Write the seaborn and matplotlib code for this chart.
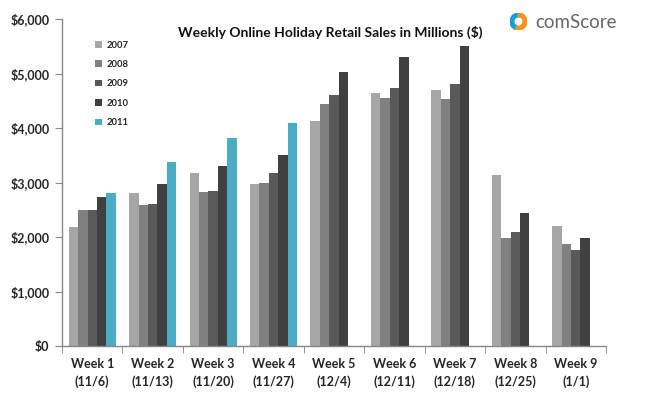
import pandas as pd
import numpy as np
import matplotlib
matplotlib.use('Agg')
import matplotlib.pyplot as plt
import seaborn as sns
from matplotlib.patches import Wedge
from matplotlib.ticker import FuncFormatter, FixedLocator

weeks = ['Week 1\n(11/6)', 'Week 2\n(11/13)', 'Week 3\n(11/20)', 'Week 4\n(11/27)', 'Week 5\n(12/4)',
         'Week 6\n(12/11)', 'Week 7\n(12/18)', 'Week 8\n(12/25)', 'Week 9\n(1/1)']
years = ['2007', '2008', '2009', '2010', '2011']
sales_2007 = [2185, 2805, 3175, 2970, 4130, 4645, 4700, 3140, 2205]
sales_2008 = [2495, 2590, 2825, 2990, 4440, 4550, 4535, 1985, 1875]
sales_2009 = [2495, 2605, 2845, 3175, 4605, 4735, 4810, 2090, 1760]
sales_2010 = [2735, 2975, 3305, 3505, 5030, 5305, 5505, 2440, 1985]
sales_2011 = [2810, 3375, 3820, 4095, np.nan, np.nan, np.nan, np.nan, np.nan]
colors = ['#A6A6A6', '#808080', '#595959', '#404040', '#4BACC6']

df = pd.DataFrame({'week': weeks * 5,
                   'year': np.repeat(years, len(weeks)),
                   'sales': sales_2007 + sales_2008 + sales_2009 + sales_2010 + sales_2011})

sns.set_style('white')
plt.rcParams['font.family'] = ['Lato', 'DejaVu Sans']

fig = plt.figure(figsize=(6.51, 3.93), dpi=100)
ax = fig.add_axes([62 / 651, 1 - 346 / 393, 544 / 651, 327 / 393])
sns.barplot(data=df, x='week', y='sales', hue='year', palette=colors, width=0.78,
            saturation=1, ax=ax, linewidth=0)

ax.set_ylim(0, 6000)
ax.set_xlim(-0.5, 8.5)
ax.set_yticks(range(0, 6001, 1000))
ax.yaxis.set_major_formatter(FuncFormatter(lambda v, p: '${:,.0f}'.format(v)))
ax.set_xlabel('')
ax.set_ylabel('')
for s in ['top', 'right']:
    ax.spines[s].set_visible(False)
for s in ['left', 'bottom']:
    ax.spines[s].set_color('#868686')
    ax.spines[s].set_linewidth(1)
ax.tick_params(axis='y', which='major', length=5, color='#868686', direction='out', left=True,
               labelsize=9, pad=4)
ax.tick_params(axis='x', which='major', length=0, labelsize=9, pad=9)
ax.xaxis.set_minor_locator(FixedLocator(np.arange(-0.5, 9, 1)))
ax.tick_params(axis='x', which='minor', length=5, color='#868686', direction='out', bottom=True)
for lbl in ax.get_xticklabels() + ax.get_yticklabels():
    lbl.set_fontweight('bold')
    lbl.set_color('#262626')
for lbl in ax.get_xticklabels():
    lbl.set_linespacing(1.45)

ax.legend(loc='upper left', bbox_to_anchor=(0.045, 0.96), frameon=False,
          prop={'weight': 'bold', 'size': 6.8}, handlelength=0.7, handleheight=0.7,
          labelspacing=1.1, handletextpad=0.5)

fig.text(0.507, 0.918, 'Weekly Online Holiday Retail Sales in Millions ($)', ha='center', va='center',
         fontsize=10, fontweight='bold', color='#111111')

# comScore logo
logo = fig.add_axes([510 / 651, 1 - 30 / 393, 17 / 651, 17 / 393])
logo.set_xlim(-1, 1)
logo.set_ylim(-1, 1)
logo.set_aspect('equal')
logo.axis('off')
logo.add_patch(Wedge((0, 0), 1, 90, 250, width=0.45, color='#1B9ED8'))
logo.add_patch(Wedge((0, 0), 1, 250, 450, width=0.45, color='#F7941D'))
fig.text(535 / 651, 1 - 22 / 393, 'comScore', ha='left', va='center', fontsize=13.5,
         color='#666666')

fig.savefig('out.png', dpi=100)
